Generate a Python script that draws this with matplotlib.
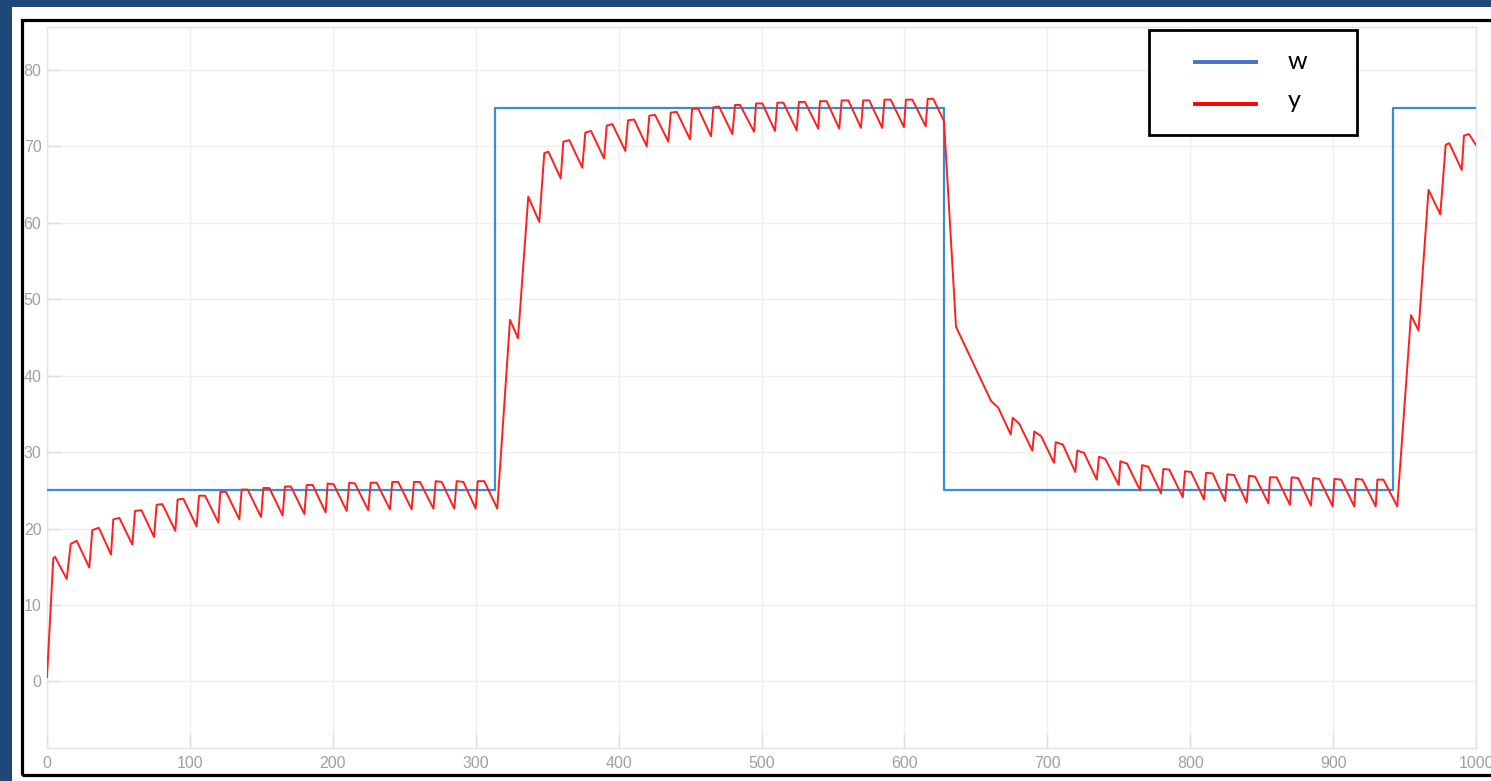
import matplotlib.pyplot as plt
from matplotlib.patches import Rectangle
from matplotlib.lines import Line2D

# 목표값 w (계단)
w_t = [0, 313.5, 628, 942, 1000]
w_v = [25, 75, 25, 75, 75]

# 출력 y (그림에서 읽은 꼭짓점)
y_t = [0, 4.4, 5.6, 13.8, 16.6, 20.8, 29.6, 31.7, 36.3, 44.8, 46.4, 50.6, 59.7, 61.6, 66.1,
       74.9, 76.7, 80.7, 89.8, 91.4, 95.4, 104.7, 106.4, 110.6, 119.9, 121.3, 125.3,
       134.6, 136.2, 140.4, 149.8, 151.4, 155.6, 164.9, 166.5, 170.7, 180.1, 181.7, 185.9,
       195.0, 196.4, 200.6, 209.7, 211.5, 215.5, 224.8, 226.5, 230.7, 240.0, 241.6, 245.8,
       255.2, 256.8, 261.0, 270.4, 272.0, 276.2, 285.0, 286.7, 291.4, 300.0, 301.4, 306.0,
       315.1, 324.0, 329.6, 336.8, 344.5, 348.0, 350.8, 359.5, 361.3, 365.5, 374.6, 376.7,
       380.7, 389.8, 391.7, 395.6, 404.7, 406.6, 410.8, 419.7, 421.5, 425.5, 434.8, 436.5,
       440.7, 450.0, 451.4, 455.8, 464.7, 466.3, 470.3, 479.6, 481.5, 485.0, 494.8, 496.2,
       500.6, 509.4, 511.1, 515.3, 524.6, 526.2, 530.4, 539.7, 540.9, 545.6, 554.4, 556.1,
       560.8, 569.6, 571.2, 575.4, 584.5, 586.0, 590.4, 599.7, 601.1, 605.6, 614.9, 616.3,
       620.2, 627.7, 636.1, 660.6, 665.7, 674.4, 675.8, 680.4, 689.5, 690.9, 695.6, 704.7,
       705.9, 710.8, 719.6, 721.0, 725.7, 734.6, 736.2, 740.6, 750.0, 751.1, 755.8, 764.9,
       766.3, 770.7, 779.6, 781.2, 785.4, 794.8, 796.4, 800.6, 809.7, 811.1, 815.8, 824.4,
       826.0, 830.7, 839.5, 841.2, 845.4, 854.7, 855.8, 860.5, 869.8, 871.0, 875.6, 884.5,
       886.1, 890.3, 899.7, 900.9, 905.6, 914.8, 916.0, 920.5, 929.8, 931.0, 935.2, 944.9,
       954.5, 959.8, 966.8, 975.0, 978.8, 981.3, 990.0, 991.6, 995.1, 999.8]
y_v = [0.6, 16.1, 16.3, 13.4, 18.0, 18.4, 14.9, 19.8, 20.1, 16.6, 21.2, 21.4, 17.9, 22.3, 22.4,
       18.9, 23.1, 23.2, 19.7, 23.8, 23.9, 20.3, 24.3, 24.3, 20.8, 24.8, 24.8,
       21.2, 25.1, 25.1, 21.5, 25.3, 25.3, 21.7, 25.5, 25.5, 21.9, 25.7, 25.7,
       22.1, 25.9, 25.8, 22.3, 26.0, 25.9, 22.4, 26.0, 26.0, 22.5, 26.1, 26.1,
       22.5, 26.1, 26.1, 22.6, 26.2, 26.1, 22.6, 26.2, 26.1, 22.6, 26.2, 26.2,
       22.6, 47.3, 44.9, 63.4, 60.1, 69.1, 69.3, 65.8, 70.6, 70.8, 67.2, 71.8,
       72.0, 68.4, 72.7, 72.9, 69.4, 73.4, 73.5, 70.0, 74.0, 74.1, 70.6, 74.4,
       74.5, 70.9, 74.9, 74.9, 71.3, 75.1, 75.2, 71.6, 75.4, 75.4, 71.9, 75.6,
       75.6, 72.0, 75.7, 75.7, 72.1, 75.8, 75.8, 72.3, 75.9, 75.9, 72.3, 76.0,
       76.0, 72.4, 76.0, 76.0, 72.4, 76.1, 76.1, 72.5, 76.1, 76.1, 72.6, 76.2,
       76.2, 73.3, 46.4, 36.7, 35.8, 32.3, 34.5, 33.7, 30.2, 32.7, 32.1, 28.6,
       31.3, 31.0, 27.4, 30.2, 29.9, 26.4, 29.4, 29.1, 25.7, 28.8, 28.5, 25.0,
       28.3, 28.1, 24.6, 27.8, 27.7, 24.1, 27.5, 27.4, 23.8, 27.3, 27.2, 23.6,
       27.1, 27.0, 23.4, 26.9, 26.8, 23.3, 26.7, 26.7, 23.1, 26.7, 26.6, 23.0,
       26.6, 26.5, 22.9, 26.5, 26.4, 22.9, 26.5, 26.4, 22.9, 26.4, 26.4, 22.9,
       47.9, 45.9, 64.3, 61.1, 70.2, 70.4, 66.9, 71.4, 71.6, 70.2]

x_ticks = list(range(0, 1001, 100))
y_ticks = list(range(0, 81, 10))
labels = ['w', 'y']

W, H = 1491, 781
fig = plt.figure(figsize=(W / 100, H / 100), dpi=100)
fig.patch.set_facecolor('#1f4777')

# 슬라이드 위의 흰 패널과 검은 테두리
fig.patches.append(Rectangle((12 / W, 0), (W - 12) / W, (H - 7) / H,
                             transform=fig.transFigure, facecolor='white',
                             edgecolor='none', zorder=0))
fig.patches.append(Rectangle((22 / W, (H - 775) / H), (1520 - 22) / W, (775 - 19.5) / H,
                             transform=fig.transFigure, facecolor='none',
                             edgecolor='black', linewidth=2.3, zorder=1))

ax = fig.add_axes([47 / W, (H - 748) / H, (1476 - 47) / W, (748 - 27) / H])
ax.set_facecolor('white')
ax.set_zorder(2)

ax.plot(w_t, w_v, drawstyle='steps-post', color='#3a8dd4', linewidth=1.6, zorder=3)
ax.plot(y_t, y_v, color='#ff1f1f', linewidth=1.4, zorder=4)

ax.set_xlim(0, 1000)
ax.set_ylim(-8.7, 85.6)
ax.set_xticks(x_ticks)
ax.set_yticks(y_ticks)
ax.grid(True, color='#efefef', linewidth=1.0)
ax.set_axisbelow(True)
for s in ax.spines.values():
    s.set_color('#e3e3e3')
    s.set_linewidth(1.0)
ax.tick_params(direction='in', length=10, width=1, color='#dddddd',
               labelcolor='#a0a0a0', labelsize=11.5)
ax.tick_params(axis='x', pad=6)
ax.tick_params(axis='y', pad=4)
for lab in ax.get_xticklabels() + ax.get_yticklabels():
    lab.set_family('Liberation Sans')

# 범례 (직접 그림)
fig.patches.append(Rectangle((1149 / W, (H - 135) / H), 208 / W, 105 / H,
                             transform=fig.transFigure, facecolor='white',
                             edgecolor='black', linewidth=2.0, zorder=5))
leg_colors = ['#4472c4', '#ff0000']
row_y = [62, 104]
base_y = [69, 108]
for lab, c, ry, by in zip(labels, leg_colors, row_y, base_y):
    fig.lines.append(Line2D([1195 / W, 1256 / W], [(H - ry) / H, (H - ry) / H],
                            transform=fig.transFigure, color=c, linewidth=2.8, zorder=6))
    fig.text(1288 / W, (H - by) / H, lab, fontsize=18, family='Lato',
             color='black', va='baseline', ha='left', zorder=6)

fig.savefig('out.png', dpi=100, facecolor=fig.get_facecolor())
